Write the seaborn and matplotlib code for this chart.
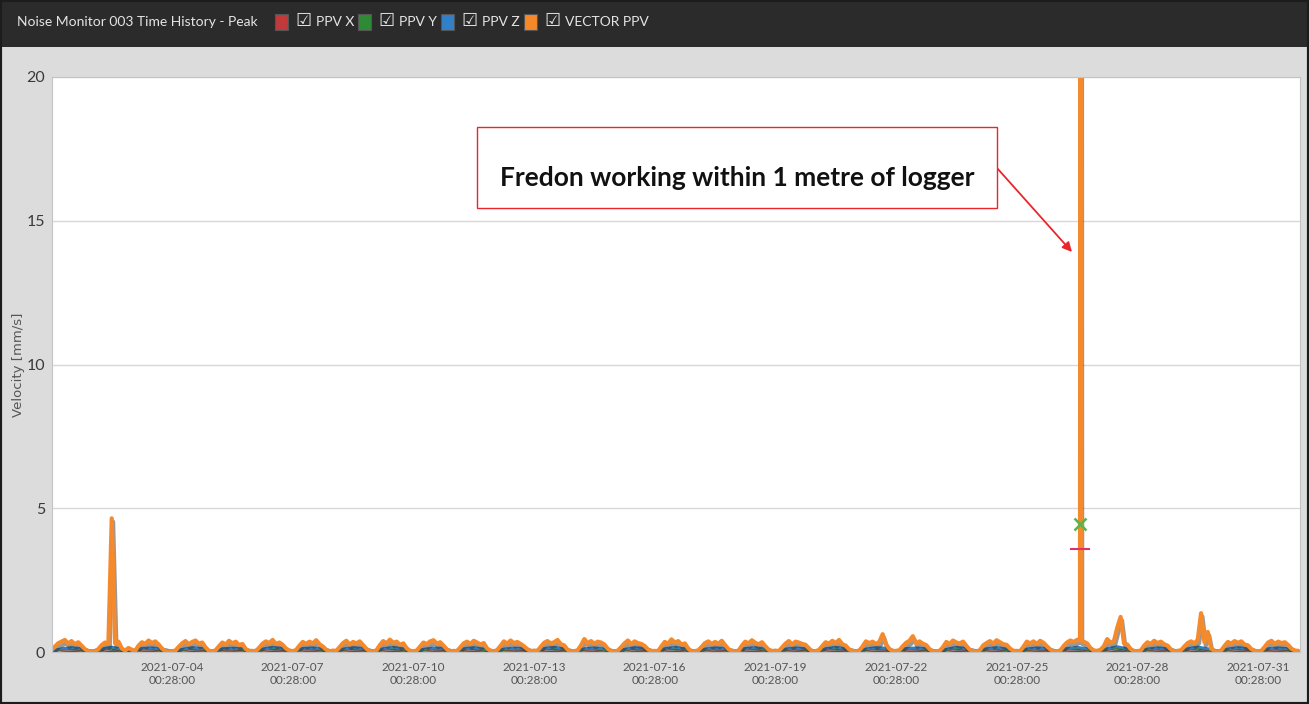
import pandas as pd
import matplotlib
matplotlib.use('Agg')
import matplotlib.pyplot as plt
import matplotlib.dates as mdates
import matplotlib.patheffects as pe
from matplotlib.patches import Rectangle
import seaborn as sns

# ---- data ----
title = 'Noise Monitor 003 Time History - Peak'
series_names = ['PPV X', 'PPV Y', 'PPV Z', 'VECTOR PPV']
series_colors = ['#a02c2c', '#3b8a3b', '#2f7fc4', '#f58a2c']
legend_colors = ['#c0393b', '#2f8a35', '#3280c8', '#f5892a']

# vector PPV, one row per day, every 2 hours from 00:28
vector_start = '2021-07-01 00:28'
vector_ppv = [
    [0.06, 0.18, 0.30, 0.36, 0.42, 0.30, 0.38, 0.27, 0.34, 0.22, 0.10, 0.03],
    [0.02, 0.03, 0.10, 0.24, 0.33, 0.28, 4.65, 0.30, 0.36, 0.12, 0.05, 0.14],
    [0.08, 0.04, 0.22, 0.34, 0.28, 0.40, 0.31, 0.37, 0.26, 0.12, 0.03, 0.02],
    [0.03, 0.05, 0.18, 0.30, 0.38, 0.27, 0.35, 0.40, 0.29, 0.33, 0.16, 0.04],
    [0.02, 0.06, 0.20, 0.33, 0.26, 0.39, 0.30, 0.36, 0.24, 0.28, 0.10, 0.03],
    [0.04, 0.03, 0.15, 0.29, 0.37, 0.31, 0.42, 0.28, 0.33, 0.25, 0.12, 0.05],
    [0.03, 0.07, 0.22, 0.35, 0.28, 0.36, 0.30, 0.41, 0.27, 0.19, 0.08, 0.02],
    [0.05, 0.04, 0.17, 0.31, 0.39, 0.26, 0.35, 0.30, 0.37, 0.24, 0.11, 0.03],
    [0.02, 0.06, 0.24, 0.38, 0.30, 0.43, 0.32, 0.36, 0.25, 0.30, 0.13, 0.04],
    [0.03, 0.05, 0.19, 0.33, 0.27, 0.37, 0.41, 0.29, 0.34, 0.22, 0.09, 0.02],
    [0.04, 0.03, 0.16, 0.30, 0.36, 0.28, 0.39, 0.33, 0.26, 0.31, 0.12, 0.05],
    [0.02, 0.07, 0.21, 0.37, 0.29, 0.40, 0.31, 0.35, 0.28, 0.20, 0.10, 0.03],
    [0.05, 0.04, 0.18, 0.32, 0.38, 0.30, 0.34, 0.42, 0.27, 0.23, 0.08, 0.02],
    [0.03, 0.06, 0.23, 0.45, 0.31, 0.38, 0.29, 0.36, 0.33, 0.26, 0.11, 0.04],
    [0.02, 0.05, 0.17, 0.30, 0.40, 0.27, 0.37, 0.31, 0.28, 0.21, 0.09, 0.03],
    [0.04, 0.03, 0.20, 0.35, 0.29, 0.44, 0.33, 0.38, 0.26, 0.30, 0.12, 0.02],
    [0.03, 0.06, 0.18, 0.31, 0.37, 0.28, 0.35, 0.29, 0.39, 0.24, 0.10, 0.04],
    [0.02, 0.04, 0.22, 0.36, 0.30, 0.41, 0.32, 0.27, 0.34, 0.20, 0.08, 0.03],
    [0.05, 0.03, 0.16, 0.29, 0.38, 0.26, 0.36, 0.33, 0.28, 0.25, 0.13, 0.02],
    [0.03, 0.07, 0.21, 0.34, 0.29, 0.39, 0.31, 0.42, 0.27, 0.22, 0.09, 0.04],
    [0.02, 0.05, 0.19, 0.37, 0.31, 0.36, 0.28, 0.35, 0.62, 0.26, 0.11, 0.03],
    [0.04, 0.06, 0.20, 0.32, 0.39, 0.55, 0.30, 0.37, 0.29, 0.24, 0.10, 0.02],
    [0.03, 0.04, 0.17, 0.35, 0.28, 0.40, 0.33, 0.30, 0.36, 0.21, 0.08, 0.03],
    [0.02, 0.06, 0.23, 0.31, 0.38, 0.29, 0.41, 0.34, 0.27, 0.25, 0.12, 0.04],
    [0.04, 0.03, 0.18, 0.36, 0.30, 0.37, 0.28, 0.39, 0.32, 0.20, 0.09, 0.02],
    [0.03, 0.05, 0.21, 0.33, 0.40, 0.35, 0.42, 38.0, 0.36, 0.30, 0.14, 0.05],
    [0.04, 0.08, 0.20, 0.45, 0.32, 0.38, 0.85, 1.22, 0.30, 0.26, 0.10, 0.03],
    [0.03, 0.05, 0.22, 0.34, 0.28, 0.39, 0.31, 0.36, 0.27, 0.22, 0.09, 0.02],
    [0.04, 0.06, 0.19, 0.31, 0.37, 0.30, 0.42, 1.35, 0.34, 0.70, 0.12, 0.03],
    [0.02, 0.05, 0.21, 0.35, 0.29, 0.38, 0.32, 0.37, 0.26, 0.23, 0.10, 0.04],
    [0.03, 0.04, 0.18, 0.33, 0.39, 0.28, 0.36, 0.31, 0.34, 0.24, 0.11, 0.05],
    [0.04],
]
# extra readings either side of the big event (it was short)
event_times = ['2021-07-26 14:13', '2021-07-26 14:43']
event_values = [0.45, 0.40]

# single axes, one row per day, every 6 hours from 00:28
xyz_start = '2021-07-01 00:28'
ppv_x = [
    [0.02, 0.08, 0.11, 0.07], [0.02, 0.07, 0.13, 0.05], [0.03, 0.09, 0.10, 0.06],
    [0.02, 0.06, 0.11, 0.08], [0.02, 0.08, 0.09, 0.07], [0.03, 0.07, 0.12, 0.08],
    [0.02, 0.09, 0.10, 0.06], [0.02, 0.07, 0.11, 0.08], [0.03, 0.08, 0.12, 0.07],
    [0.02, 0.06, 0.10, 0.08], [0.02, 0.08, 0.11, 0.06], [0.03, 0.07, 0.09, 0.08],
    [0.02, 0.09, 0.12, 0.07], [0.02, 0.08, 0.10, 0.06], [0.03, 0.06, 0.11, 0.08],
    [0.02, 0.08, 0.12, 0.07], [0.02, 0.07, 0.10, 0.08], [0.03, 0.09, 0.11, 0.06],
    [0.02, 0.07, 0.10, 0.07], [0.02, 0.08, 0.12, 0.08], [0.03, 0.07, 0.11, 0.09],
    [0.02, 0.09, 0.10, 0.07], [0.02, 0.06, 0.12, 0.08], [0.03, 0.08, 0.11, 0.06],
    [0.02, 0.07, 0.10, 0.08], [0.02, 0.09, 0.12, 0.07], [0.03, 0.08, 0.14, 0.07],
    [0.02, 0.07, 0.10, 0.08], [0.02, 0.08, 0.13, 0.07], [0.03, 0.07, 0.11, 0.08],
    [0.02, 0.08, 0.10, 0.07], [0.02],
]
ppv_y = [
    [0.03, 0.10, 0.13, 0.09], [0.03, 0.09, 0.15, 0.07], [0.04, 0.11, 0.12, 0.08],
    [0.03, 0.08, 0.13, 0.10], [0.03, 0.10, 0.11, 0.09], [0.04, 0.09, 0.14, 0.10],
    [0.03, 0.11, 0.12, 0.08], [0.03, 0.09, 0.13, 0.10], [0.04, 0.10, 0.14, 0.09],
    [0.03, 0.08, 0.12, 0.10], [0.03, 0.10, 0.13, 0.08], [0.04, 0.09, 0.11, 0.10],
    [0.03, 0.11, 0.14, 0.09], [0.03, 0.10, 0.12, 0.08], [0.04, 0.08, 0.13, 0.10],
    [0.03, 0.10, 0.14, 0.09], [0.03, 0.09, 0.12, 0.10], [0.04, 0.11, 0.13, 0.08],
    [0.03, 0.09, 0.12, 0.09], [0.03, 0.10, 0.14, 0.10], [0.04, 0.09, 0.13, 0.11],
    [0.03, 0.11, 0.12, 0.09], [0.03, 0.08, 0.14, 0.10], [0.04, 0.10, 0.13, 0.08],
    [0.03, 0.09, 0.12, 0.10], [0.03, 0.11, 0.14, 0.09], [0.04, 0.10, 0.16, 0.09],
    [0.03, 0.09, 0.12, 0.10], [0.03, 0.10, 0.15, 0.09], [0.04, 0.09, 0.13, 0.10],
    [0.03, 0.10, 0.12, 0.09], [0.03],
]
ppv_z = [
    [0.04, 0.12, 0.16, 0.12], [0.04, 0.11, 0.18, 0.10], [0.05, 0.13, 0.15, 0.11],
    [0.04, 0.10, 0.16, 0.13], [0.04, 0.12, 0.14, 0.12], [0.05, 0.11, 0.17, 0.13],
    [0.04, 0.13, 0.15, 0.11], [0.04, 0.11, 0.16, 0.13], [0.05, 0.12, 0.17, 0.12],
    [0.04, 0.10, 0.15, 0.13], [0.04, 0.12, 0.16, 0.11], [0.05, 0.11, 0.14, 0.13],
    [0.04, 0.13, 0.17, 0.12], [0.04, 0.12, 0.15, 0.11], [0.05, 0.10, 0.16, 0.13],
    [0.04, 0.12, 0.17, 0.12], [0.04, 0.11, 0.15, 0.13], [0.05, 0.13, 0.16, 0.11],
    [0.04, 0.11, 0.15, 0.12], [0.04, 0.12, 0.17, 0.13], [0.05, 0.11, 0.16, 0.14],
    [0.04, 0.13, 0.15, 0.12], [0.04, 0.10, 0.17, 0.13], [0.05, 0.12, 0.16, 0.11],
    [0.04, 0.11, 0.15, 0.13], [0.04, 0.13, 0.17, 0.12], [0.05, 0.12, 0.19, 0.12],
    [0.04, 0.11, 0.15, 0.13], [0.04, 0.12, 0.18, 0.12], [0.05, 0.11, 0.16, 0.13],
    [0.04, 0.12, 0.15, 0.12], [0.04],
]

# peak markers at the big event
peak_time = '2021-07-26 14:28'
peak_ppv_x = 3.58
peak_ppv_y = 4.45

tick_labels = ['2021-07-04 00:28:00', '2021-07-07 00:28:00', '2021-07-10 00:28:00',
               '2021-07-13 00:28:00', '2021-07-16 00:28:00', '2021-07-19 00:28:00',
               '2021-07-22 00:28:00', '2021-07-25 00:28:00', '2021-07-28 00:28:00',
               '2021-07-31 00:28:00']
y_ticks = [0, 5, 10, 15, 20]
note = 'Fredon working within 1 metre of logger'


def flatten(rows):
    return [v for r in rows for v in r]


vec = flatten(vector_ppv)
df_vec = pd.DataFrame({'time': pd.date_range(vector_start, periods=len(vec), freq='2h'),
                       'value': vec})
df_evt = pd.DataFrame({'time': pd.to_datetime(event_times), 'value': event_values})
df_vec = pd.concat([df_vec, df_evt]).sort_values('time').reset_index(drop=True)

xyz_series = [flatten(ppv_x), flatten(ppv_y), flatten(ppv_z)]
xyz_time = pd.date_range(xyz_start, periods=len(xyz_series[0]), freq='6h')

# ---- figure ----
sns.set_style('white')
plt.rcParams['font.family'] = ['Lato', 'DejaVu Sans']

W, H = 1309, 704
fig = plt.figure(figsize=(W / 100, H / 100), dpi=100)
fig.patch.set_facecolor('#dcdcdc')

# header bar
fig.patches.append(Rectangle((0, 1 - 47 / H), 1, 47 / H, transform=fig.transFigure,
                             facecolor='#2b2b2b', edgecolor='none', zorder=0))
fig.patches.append(Rectangle((0, 0), 1, 1, transform=fig.transFigure, fill=False,
                             edgecolor='#1c1c1c', linewidth=3, zorder=0))
fig.text(17 / W, 1 - 22 / H, title, color='#e4e4e4', fontsize=10, va='center')

box_x = [275, 358, 441, 524]
for i, name in enumerate(series_names):
    bx = box_x[i]
    fig.patches.append(Rectangle((bx / W, 1 - 30 / H), 13 / W, 16 / H, transform=fig.transFigure,
                                 facecolor=legend_colors[i], edgecolor='#555555', lw=0.8))
    fig.text((bx + 20) / W, 1 - 21 / H, '\u2611', color='#e4e4e4', fontsize=13,
             va='center', family=['DejaVu Sans'], fontweight='bold')
    fig.text((bx + 41) / W, 1 - 22 / H, name, color='#e4e4e4', fontsize=10, va='center')

ax = fig.add_axes([52 / W, 52 / H, 1248 / W, 575 / H])
ax.set_facecolor('white')

shadow = [pe.SimpleLineShadow(offset=(1, -2.5), shadow_color='#333333', alpha=0.5), pe.Normal()]
for vals, color in zip(xyz_series, series_colors[:3]):
    sns.lineplot(x=xyz_time, y=vals, ax=ax, color=color, linewidth=1.8,
                 estimator=None, path_effects=shadow)
sns.lineplot(data=df_vec, x='time', y='value', ax=ax, color=series_colors[3],
             linewidth=3.0, estimator=None, path_effects=shadow)

pt = pd.to_datetime([peak_time])
ax.plot(pt, [peak_ppv_y], marker='x', color='#4cbb4c', ms=9, mew=1.8, ls='none', zorder=5)
ax.plot(pt, [peak_ppv_x], marker='_', color='#e0306a', ms=14, mew=1.5, ls='none', zorder=5)

ax.set_xlim(mdates.date2num(pd.Timestamp('2021-07-01 00:50')),
            mdates.date2num(pd.Timestamp('2021-08-01 01:30')))
ax.set_ylim(0, 20)
ax.set_yticks(y_ticks)
ax.set_yticklabels([str(t) for t in y_ticks])
ax.set_xticks(mdates.date2num(pd.to_datetime(tick_labels)))
ax.set_xticklabels([t.replace(' ', '\n') for t in tick_labels])
ax.tick_params(axis='both', length=0)
ax.tick_params(axis='y', labelsize=11.5, labelcolor='#3a3a3a', pad=5)
ax.tick_params(axis='x', labelsize=8.5, labelcolor='#555555', pad=7)
ax.grid(axis='y', color='#d8d8d8', lw=1)
ax.set_axisbelow(True)
for s in ax.spines.values():
    s.set_color('#c4c4c4')

ax.set_xlabel('')
ax.set_ylabel('Velocity [mm/s]', fontsize=9.5, color='#555555', family=['DejaVu Sans'])
ax.yaxis.set_label_coords(-27 / 1248, 0.5)

# annotation box + arrow
fig.patches.append(Rectangle((477 / W, 1 - 208 / H), 520 / W, 81 / H, transform=fig.transFigure,
                             facecolor='white', edgecolor='#e8262b', lw=1, zorder=4))
fig.text(737 / W, 1 - 178 / H, note, ha='center', va='center', fontsize=19,
         fontweight='bold', family=['Lato', 'DejaVu Sans'], color='#111111', zorder=5)
ax.annotate('', xy=(1072 / W, 1 - 252 / H), xycoords='figure fraction',
            xytext=(997 / W, 1 - 168 / H), textcoords='figure fraction',
            arrowprops=dict(arrowstyle='-|>', color='#e8262b', lw=1.3, mutation_scale=14,
                            shrinkA=0, shrinkB=0))

fig.savefig('out.png', dpi=100, facecolor=fig.get_facecolor())
